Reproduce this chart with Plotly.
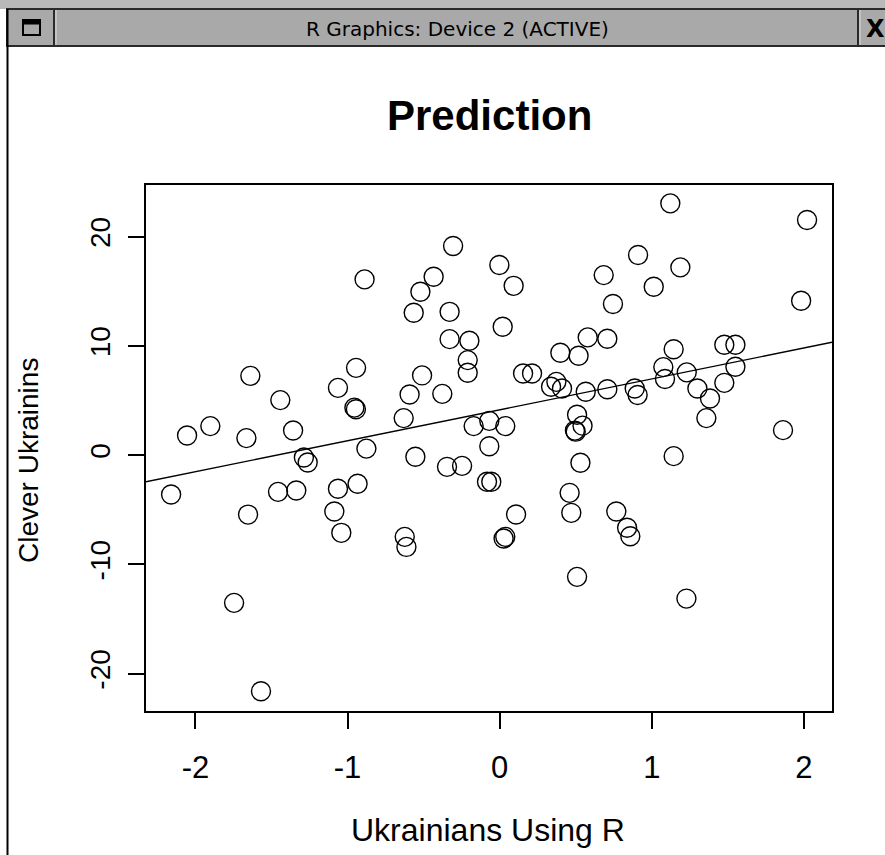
import plotly.graph_objects as go

# ---- data ----
ukrainians_using_r = [
    -0.306, -0.888, -0.434, -0.521, -0.565, -0.329, -0.329, -0.199, -0.210, -0.210,
    -0.944, -1.639, -0.510, -1.063, -0.592, -0.377, -1.442, -0.955, -0.945, -0.631,
    -1.902, -2.055, -1.665, -1.358, -0.171, -0.068, 0.037, -0.068, -0.876, -0.554,
    -1.287, -1.262, -0.346, -0.247, -0.083, -0.055, -2.160, -1.457, -1.337, -1.063,
    -0.934, -1.654, -1.087, -1.041, -0.624, -0.613, -1.746, -1.569,
    0.531, 1.144, 0.460, 0.108, 0.471, 0.767, 0.026, 0.037, 0.838, 0.859,
    0.509, 1.228, 1.122, 2.021, -0.002, 0.910, 1.188, 0.684, 0.092, 1.013,
    0.745, 1.982, 0.020, 0.579, 0.708, 1.477, 1.550, 1.144, 0.399, 0.519,
    1.076, 1.230, 1.550, 0.154, 0.213, 1.087, 0.338, 0.373, 0.410, 0.566,
    0.708, 0.888, 0.907, 1.300, 1.477, 1.383, 1.359, 0.509, 0.545, 0.495,
    0.500, 1.863,
]
clever_ukrainins = [
    19.14, 16.09, 16.33, 14.96, 13.03, 13.12, 10.62, 10.47, 8.70, 7.54,
    7.99, 7.26, 7.30, 6.16, 5.55, 5.61, 5.04, 4.35, 4.20, 3.39,
    2.66, 1.80, 1.56, 2.26, 2.66, 3.14, 2.66, 0.82, 0.60, -0.15,
    -0.21, -0.67, -1.07, -0.98, -2.44, -2.44, -3.60, -3.36, -3.24, -3.08,
    -2.62, -5.44, -5.16, -7.11, -7.48, -8.40, -13.52, -21.61,
    -0.70, -0.09, -3.45, -5.43, -5.28, -5.16, -7.63, -7.48, -6.65, -7.42,
    -11.14, -13.13, 23.05, 21.52, 17.40, 18.32, 17.19, 16.48, 15.50, 15.41,
    13.83, 14.13, 11.75, 10.78, 10.65, 10.10, 10.10, 9.70, 9.37, 9.10,
    8.06, 7.58, 8.09, 7.48, 7.48, 6.97, 6.26, 6.71, 6.10, 5.80,
    6.03, 6.10, 5.50, 6.10, 6.62, 5.19, 3.39, 3.70, 2.70, 2.25,
    2.15, 2.29,
]
fit_intercept = 4.15
fit_slope = 2.83

x_ticks = [-2, -1, 0, 1, 2]
y_ticks = [-20, -10, 0, 10, 20]
x_range = [-2.325, 2.185]
y_range = [-23.42, 24.73]

title_text = "Prediction"
x_title = "Ukrainians Using R"
y_title = "Clever Ukrainins"
window_title = "R Graphics: Device 2 (ACTIVE)"

# ---- layout geometry (pixels) ----
W, H = 885, 855
L, R, T, B = 146, 832, 185, 711


def px(x):
    return (x - L) / (R - L)


def py(y):
    return (B - y) / (B - T)


fig = go.Figure()

fig.add_trace(go.Scatter(
    x=ukrainians_using_r, y=clever_ukrainins, mode="markers",
    marker=dict(symbol="circle-open", size=19, color="black",
                line=dict(color="black", width=1.4)),
    showlegend=False, hoverinfo="x+y",
))

line_x = x_range
line_y = [fit_intercept + fit_slope * v for v in line_x]
fig.add_trace(go.Scatter(
    x=line_x, y=line_y, mode="lines",
    line=dict(color="black", width=1.4), showlegend=False, hoverinfo="skip",
))

axis_common = dict(
    showgrid=False, zeroline=False, showline=True, mirror=True,
    linecolor="black", linewidth=1.5, ticks="outside", ticklen=16,
    tickwidth=1.5, tickcolor="black",
)

fig.update_xaxes(range=x_range, tickvals=x_ticks, ticktext=[str(v) for v in x_ticks],
                 tickfont=dict(family="Liberation Sans", size=31, color="black"),
                 ticklabelstandoff=12, **axis_common)
fig.update_yaxes(range=y_range, tickvals=y_ticks, ticktext=[str(v) for v in y_ticks],
                 tickangle=-90,
                 tickfont=dict(family="Liberation Sans", size=28, color="black"),
                 ticklabelstandoff=7, **axis_common)

P = dict(xref="paper", yref="paper", layer="above")
shapes = [
    # top light strip
    dict(type="rect", x0=px(0), x1=px(W), y0=py(0), y1=py(9), fillcolor="#b9b9b9", line=dict(width=0), **P),
    # title bar
    dict(type="rect", x0=px(7), x1=px(W + 5), y0=py(9), y1=py(46), fillcolor="#a9a9a9",
         line=dict(color="#2a2a2a", width=2), **P),
    # separators in title bar
    dict(type="line", x0=px(54), x1=px(54), y0=py(10), y1=py(45), line=dict(color="#2a2a2a", width=2), **P),
    dict(type="line", x0=px(56), x1=px(56), y0=py(10), y1=py(45), line=dict(color="#dcdcdc", width=1), **P),
    dict(type="line", x0=px(858), x1=px(858), y0=py(10), y1=py(45), line=dict(color="#2a2a2a", width=2), **P),
    dict(type="line", x0=px(860), x1=px(860), y0=py(10), y1=py(45), line=dict(color="#dcdcdc", width=1), **P),
    # window icon
    dict(type="rect", x0=px(23), x1=px(40), y0=py(20), y1=py(35), fillcolor="rgba(0,0,0,0)",
         line=dict(color="black", width=2), **P),
    dict(type="rect", x0=px(23), x1=px(40), y0=py(20), y1=py(24), fillcolor="black",
         line=dict(color="black", width=1), **P),
    # left window border
    dict(type="line", x0=px(7.5), x1=px(7.5), y0=py(9), y1=py(H + 5), line=dict(color="black", width=2), **P),
]

annotations = [
    dict(text=window_title, x=px(457), y=py(29), xref="paper", yref="paper", showarrow=False,
         xanchor="center", yanchor="middle", font=dict(family="DejaVu Sans", size=20, color="black")),
    dict(text="<b>X</b>", x=px(864), y=py(29), xref="paper", yref="paper", showarrow=False,
         xanchor="left", yanchor="middle", font=dict(family="DejaVu Sans", size=24, color="black")),
    dict(text="<b>" + title_text + "</b>", x=px(489), y=py(116), xref="paper", yref="paper",
         showarrow=False, xanchor="center", yanchor="middle",
         font=dict(family="Liberation Sans", size=42, color="black")),
    dict(text=x_title, x=px(488), y=py(830), xref="paper", yref="paper", showarrow=False,
         xanchor="center", yanchor="middle", font=dict(family="Liberation Sans", size=32, color="black")),
    dict(text=y_title, x=px(28), y=py(461), xref="paper", yref="paper", showarrow=False,
         textangle=-90, xanchor="center", yanchor="middle",
         font=dict(family="Liberation Sans", size=28, color="black")),
]

fig.update_layout(
    width=W, height=H, autosize=False,
    margin=dict(l=L, r=W - R, t=T, b=H - B, pad=0),
    paper_bgcolor="white", plot_bgcolor="white",
    shapes=shapes, annotations=annotations,
)

fig.write_html("out.html", config={"displayModeBar": False},
               post_script="document.body.style.margin='0';document.body.style.overflow='hidden';")
